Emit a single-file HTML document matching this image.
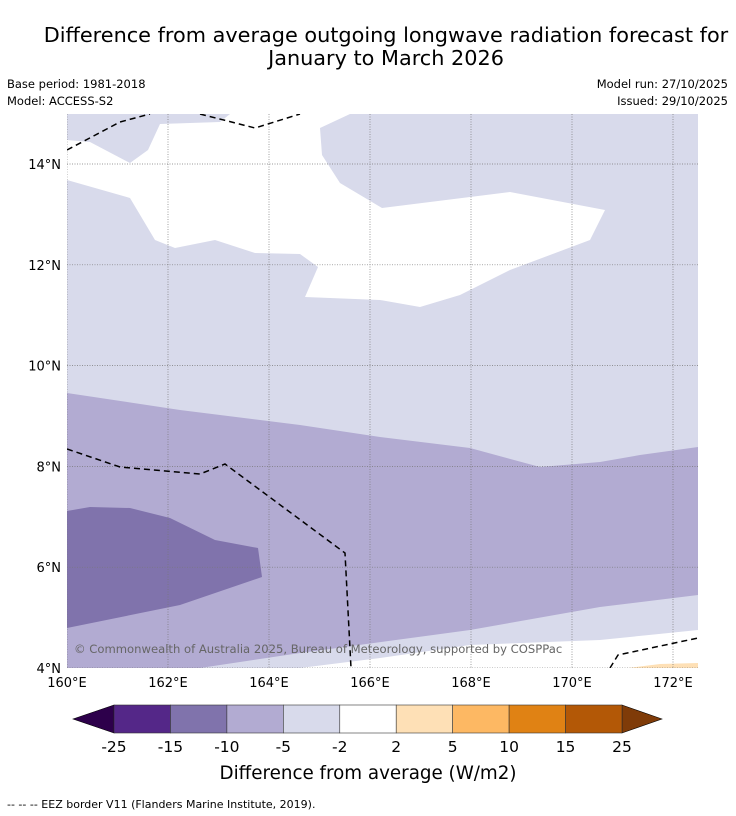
<!DOCTYPE html>
<html><head><meta charset="utf-8"><style>
body{margin:0;background:#fff;width:736px;height:816px;overflow:hidden;font-family:"DejaVu Sans","Liberation Sans",sans-serif}
svg{position:absolute;left:0;top:0}
</style></head><body>
<svg id="s" width="736" height="816" xmlns="http://www.w3.org/2000/svg">
<text x="386" y="42" text-anchor="middle" font-size="20.8">Difference from average outgoing longwave radiation forecast for</text>
<text x="386" y="65" text-anchor="middle" font-size="20.8">January to March 2026</text>
<text x="7" y="88" font-size="11.5">Base period: 1981-2018</text>
<text x="7" y="105" font-size="11.5">Model: ACCESS-S2</text>
<text x="728" y="88" font-size="11.5" text-anchor="end">Model run: 27/10/2025</text>
<text x="728" y="105" font-size="11.5" text-anchor="end">Issued: 29/10/2025</text>
<g id="map"></g>
<g id="cb"></g>
<text x="368" y="779" text-anchor="middle" font-size="18.3">Difference from average (W/m2)</text>
<text x="7" y="808" font-size="11">--  --  -- EEZ border V11 (Flanders Marine Institute, 2019).</text>
</svg>
<script>
const lonTicks=[160,162,164,166,168,170,172];
const latTicks=[4,6,8,10,12,14];
const cbLevels=[-25,-15,-10,-5,-2,2,5,10,15,25];
const cbColors=["#542788","#8073ac","#b2abd2","#d8daeb","#ffffff","#fee0b6","#fdb863","#e08214","#b35806"];
const whiteTopPx=[[67,140],[90,142],[130,163],[148,150],[160,124],[220,122],[230,114],[350,114],[320,128],[322,155],[340,183],[382,208],[510,192],[605,210],[590,240],[510,270],[460,295],[420,307],[380,300],[305,297],[318,267],[300,254],[255,253],[215,240],[175,248],[155,240],[130,198],[67,180]];
const mediumPx=[[67,393],[180,410],[300,425],[380,437],[470,448],[540,467],[600,462],[640,455],[698,447],[698,595],[600,607],[470,630],[300,653],[240,662],[200,668],[67,668]];
const darkPx=[[67,511],[90,507],[130,508],[170,518],[215,540],[258,548],[262,577],[180,605],[67,628]];
const whiteBotPx=[[698,630],[600,640],[470,645],[380,658],[300,668],[698,668]];
const orangePx=[[628,668],[660,664],[698,663],[698,668]];
const eez=[[[67,150],[120,122],[150,114]],[[200,114],[255,128],[300,114]],[[67,449],[120,467],[200,474],[225,464],[345,553],[351,668]],[[610,668],[618,655],[698,638]]];
const X0=67,X1=698,Y0=114,Y1=668;
const xPx=lon=>67+(lon-160)*50.5;
const yPx=lat=>668-(lat-4)*50.4;
const toLL=p=>[160+(p[0]-67)/50.5,4+(668-p[1])/50.4];
const NS="http://www.w3.org/2000/svg";
const map=document.getElementById('map'),cb=document.getElementById('cb');
function mk(tag,attrs,parent){const e=document.createElementNS(NS,tag);for(const k in attrs)e.setAttribute(k,attrs[k]);parent.appendChild(e);return e;}
function pts(arr){return arr.map(p=>{const ll=toLL(p);return xPx(ll[0]).toFixed(1)+","+yPx(ll[1]).toFixed(1)}).join(" ");}
const cp=mk('clipPath',{id:'clip'},map);mk('rect',{x:X0,y:Y0,width:X1-X0,height:Y1-Y0},cp);
const g=mk('g',{'clip-path':'url(#clip)'},map);
const bg=mk('rect',{x:X0,y:Y0,width:X1-X0,height:Y1-Y0,fill:'#d8daeb'},g);


[[whiteTopPx,'#ffffff','region-near-normal-north'],[mediumPx,'#b2abd2','region-minus10-minus5'],[darkPx,'#8073ac','region-minus15-minus10'],[whiteBotPx,'#ffffff','region-near-normal-south'],[orangePx,'#fee0b6','region-plus2-plus5']].forEach(([a,c,n])=>{
 const p=mk('polygon',{points:pts(a),fill:c},g);
 
 
});
lonTicks.forEach(l=>{const x=xPx(l);
 const ln=mk('line',{x1:x,x2:x,y1:Y0,y2:Y1,stroke:'#777','stroke-width':0.7,'stroke-dasharray':'1,1.5'},g);
 
 
 const t=mk('text',{x:x,y:687,'text-anchor':'middle','font-size':13},map);t.textContent=l+'°E';
 
 
});
latTicks.forEach(l=>{const y=yPx(l);
 const ln=mk('line',{x1:X0,x2:X1,y1:y,y2:y,stroke:'#777','stroke-width':0.7,'stroke-dasharray':'1,1.5'},g);
 
 
 const t=mk('text',{x:61,y:y+5,'text-anchor':'end','font-size':13},map);t.textContent=l+'°N';
 
 
});
eez.forEach(a=>{const p=mk('polyline',{points:pts(a),fill:'none',stroke:'#000','stroke-width':1.5,'stroke-dasharray':'6,4'},g);
 
 
});
const cr=mk('text',{x:74,y:653,'font-size':11.6,fill:'#666'},map);cr.textContent='© Commonwealth of Australia 2025, Bureau of Meteorology, supported by COSPPac';


const cbx0=114,cbx1=622,cby=705,cbh=28,bw=(cbx1-cbx0)/cbColors.length;
const lt=mk('polygon',{points:`73,719 ${cbx0},${cby} ${cbx0},${cby+cbh}`,fill:'#2d004b',stroke:'#000','stroke-width':0.6},cb);


const rt=mk('polygon',{points:`662,719 ${cbx1},${cby} ${cbx1},${cby+cbh}`,fill:'#7f3b08',stroke:'#000','stroke-width':0.6},cb);


cbColors.forEach((c,i)=>{const r=mk('rect',{x:cbx0+i*bw,y:cby,width:bw,height:cbh,fill:c,stroke:'#333','stroke-width':0.6},cb);
 
 
});
cbLevels.forEach((v,i)=>{const t=mk('text',{x:cbx0+i*bw,y:752,'text-anchor':'middle','font-size':15.5},cb);t.textContent=v;
 
 
});
</script>
</body></html>
